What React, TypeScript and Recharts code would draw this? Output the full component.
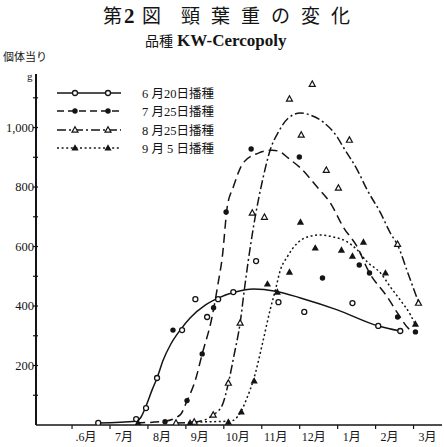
import React from "react"
import { ComposedChart, Line, Scatter, XAxis, YAxis } from "recharts"

const W = 444
const H = 447
const INK = "#141414"
const FONT = "'Liberation Serif', 'DejaVu Serif', 'Noto Sans CJK JP', serif"

// 月 (0 = 6月 ... 9 = 3月)
const monthLabels = [".6月", "7月", "8月", "9月", "10月", "11月", "12月", "1月", "2月", "3月"]
const monthTicks = [0, 1, 2, 3, 4, 5, 6, 7, 8, 9]
const weightTicks = [100, 200, 300, 400, 500, 600, 700, 800, 900, 1000, 1100]
const weightLabels: Record<number, string> = { 200: "200", 400: "400", 600: "600", 800: "800", 1000: "1,000" }

const legendNames = ["6 月20日播種", "7 月25日播種", "8 月25日播種", "9 月 5 日播種"]

// 実測点 [月, g]
const jun20Points = [
  [0.69, 7], [1.69, 20], [1.95, 57], [2.24, 158], [2.9, 319], [3.25, 423], [3.56, 363], [3.85, 423],
  [4.25, 447], [4.85, 551], [5.44, 413], [6.12, 380], [7.39, 410], [8.07, 333], [8.65, 316],
]
const jul25Points = [
  [2.45, 11], [3.03, 82], [2.66, 319], [3.43, 239], [3.73, 394], [4.06, 716], [4.72, 928], [5.99, 901],
  [6.6, 494], [7.57, 538], [7.84, 511], [8.58, 363], [9.05, 313],
]
const aug25Points = [
  [2.74, 7], [3.22, 10], [3.72, 34], [4.12, 141], [4.43, 343], [4.75, 713], [5.07, 699], [5.73, 1096],
  [6.33, 1146], [6.04, 975], [7.31, 958], [6.7, 857], [7.02, 797], [8.58, 608], [9.13, 410],
]
const sep5Points = [
  [1.74, 7], [3.11, 7], [4.12, 10], [4.46, 44], [4.8, 148], [5.15, 474], [5.41, 447], [5.73, 514],
  [6.02, 682], [6.41, 595], [7.1, 588], [7.39, 568], [7.68, 615], [8.26, 511], [9.05, 339],
]

// 手描きの平滑曲線
const jun20Curve = [
  [0.69, 7], [1.69, 13], [1.82, 27], [1.95, 64], [2.11, 118], [2.24, 158], [2.4, 218], [2.59, 269],
  [2.85, 319], [3.11, 360], [3.51, 403], [3.91, 430], [4.3, 447], [4.78, 457], [5.36, 450], [6.02, 427],
  [6.99, 387], [8.07, 333], [8.65, 316],
]
const jul25Curve = [
  [1.69, 7], [2.45, 13], [2.85, 34], [3.03, 81], [3.25, 151], [3.43, 239], [3.69, 363], [3.85, 477],
  [3.96, 565], [4.09, 733], [4.25, 800], [4.51, 881], [4.91, 914], [5.28, 924], [5.49, 918], [5.7, 897],
  [6.02, 864], [6.46, 800], [6.81, 746], [7.15, 665], [7.52, 598], [7.81, 518], [8.31, 430], [8.58, 376],
  [8.92, 319], [9.05, 313],
]
const aug25Curve = [
  [2.74, 7], [3.25, 10], [3.72, 34], [3.96, 67], [4.12, 141], [4.27, 235], [4.43, 343], [4.54, 454],
  [4.64, 548], [4.78, 665], [4.91, 756], [5.04, 834], [5.22, 924], [5.44, 985], [5.7, 1032], [6.02, 1049],
  [6.28, 1042], [6.62, 1018], [6.99, 968], [7.15, 934], [7.52, 857], [7.78, 790], [8.13, 713], [8.39, 645],
  [8.58, 605], [8.87, 504], [9.13, 413],
]
const sep5Curve = [
  [3.14, 10], [4.17, 13], [4.43, 40], [4.62, 94], [4.78, 151], [5.04, 286], [5.22, 387], [5.36, 454],
  [5.49, 521], [5.67, 565], [5.94, 612], [6.2, 632], [6.54, 639], [6.89, 632], [7.26, 615], [7.52, 588],
  [7.78, 548], [8.13, 511], [8.39, 464], [8.65, 420], [8.92, 370], [9.05, 336],
]

const toXY = (arr: number[][]) => arr.map(([x, y]) => ({ x, y }))

const OpenCircle = ({ cx, cy }: any) => (
  <circle cx={cx} cy={cy} r={2.5} fill="#fff" stroke={INK} strokeWidth={1.3} />
)
const FilledDot = ({ cx, cy }: any) => <circle cx={cx} cy={cy} r={2.7} fill={INK} />
const OpenTri = ({ cx, cy }: any) => (
  <path d={`M${cx},${cy - 3.2}L${cx + 3},${cy + 2.2}L${cx - 3},${cy + 2.2}Z`} fill="#fff" stroke={INK} strokeWidth={1.2} />
)
const FilledTri = ({ cx, cy }: any) => (
  <path d={`M${cx},${cy - 3.8}L${cx + 3.6},${cy + 2.6}L${cx - 3.6},${cy + 2.6}Z`} fill={INK} />
)

const dashes = [undefined, "9 5", "9 3 2 3", "2 2.6"]
const markers = [OpenCircle, FilledDot, OpenTri, FilledTri]

const MonthTick = ({ x, y, payload }: any) => (
  <g>
    <line x1={x} y1={y} x2={x} y2={y + 4} stroke={INK} strokeWidth={1.2} />
    <text x={x + 14} y={y + 16} textAnchor="middle" fontSize={12} fontFamily={FONT} fill={INK}>
      {monthLabels[payload.value]}
    </text>
  </g>
)

const WeightTick = ({ x, y, payload }: any) => {
  const label = weightLabels[payload.value]
  return (
    <g>
      <line x1={x - 3} y1={y} x2={x + 2} y2={y} stroke={INK} strokeWidth={1.2} />
      {label && (
        <text x={x - 2} y={y + 4} textAnchor="end" fontSize={12.5} fontFamily={FONT} fill={INK}>
          {label}
        </text>
      )}
    </g>
  )
}

function Legend() {
  const rows = [93, 111, 130, 148]
  return (
    <g>
      {rows.map((ry, i) => {
        const M = markers[i]
        return (
          <g key={i}>
            <line x1={57} y1={ry} x2={121} y2={ry} stroke={INK} strokeWidth={1.4} strokeDasharray={i === 0 ? undefined : i === 1 ? "7 4" : dashes[i]} />
            <M cx={75} cy={ry} />
            <M cx={108} cy={ry} />
            <text x={142} y={ry + 4.5} fontSize={12.5} fontFamily={FONT} fill={INK}>
              {legendNames[i]}
            </text>
          </g>
        )
      })}
    </g>
  )
}

export default function App() {
  const curves = [jun20Curve, jul25Curve, aug25Curve, sep5Curve]
  const points = [jun20Points, jul25Points, aug25Points, sep5Points]
  return (
    <div style={{ position: "absolute", left: 0, top: 0, width: W, height: H, background: "#fff" }}>
      <ComposedChart width={W} height={H} margin={{ top: 74, right: 2, bottom: 0, left: 0 }}>
        <XAxis
          type="number"
          dataKey="x"
          domain={[-0.95, 9.75]}
          allowDataOverflow
          ticks={monthTicks}
          tick={<MonthTick />}
          tickLine={false}
          tickSize={0}
          tickMargin={0}
          height={22}
          axisLine={{ stroke: INK, strokeWidth: 1.6 }}
        />
        <YAxis
          type="number"
          dataKey="y"
          domain={[0, 1180]}
          allowDataOverflow
          ticks={weightTicks}
          tick={<WeightTick />}
          tickLine={false}
          tickSize={0}
          tickMargin={0}
          width={36}
          axisLine={{ stroke: INK, strokeWidth: 2 }}
        />
        {curves.map((c, i) => (
          <Line
            key={`c${i}`}
            data={toXY(c)}
            dataKey="y"
            type="monotone"
            stroke={INK}
            strokeWidth={1.5}
            strokeDasharray={dashes[i]}
            dot={false}
            activeDot={false}
            isAnimationActive={false}
          />
        ))}
        {points.map((p, i) => {
          const M = markers[i]
          return (
            <Scatter
              key={`p${i}`}
              data={toXY(p)}
              dataKey="y"
              shape={(props: any) => <M cx={props.cx} cy={props.cy} />}
              isAnimationActive={false}
            />
          )
        })}
      </ComposedChart>
      <svg width={W} height={H} style={{ position: "absolute", left: 0, top: 0, pointerEvents: "none" }}>
        <text y={23} fontSize={19} fontFamily={FONT} fill={INK}>
          <tspan x={103}>第</tspan>
          <tspan x={124} fontWeight="bold" fontSize={21}>2</tspan>
          <tspan x={142}>図</tspan>
          <tspan x={181} letterSpacing={11}>頸葉重の変化</tspan>
        </text>
        <text y={46} fontSize={14} fontFamily={FONT} fill={INK}>
          <tspan x={145}>品種</tspan>
          <tspan x={177} fontSize={17} fontWeight="bold">KW-Cercopoly</tspan>
        </text>
        <text x={3} y={61} fontSize={11} fontFamily={FONT} fill={INK}>個体当り</text>
        <text x={27} y={80} fontSize={11} fontFamily={FONT} fill={INK}>g</text>
        <Legend />
      </svg>
    </div>
  )
}
